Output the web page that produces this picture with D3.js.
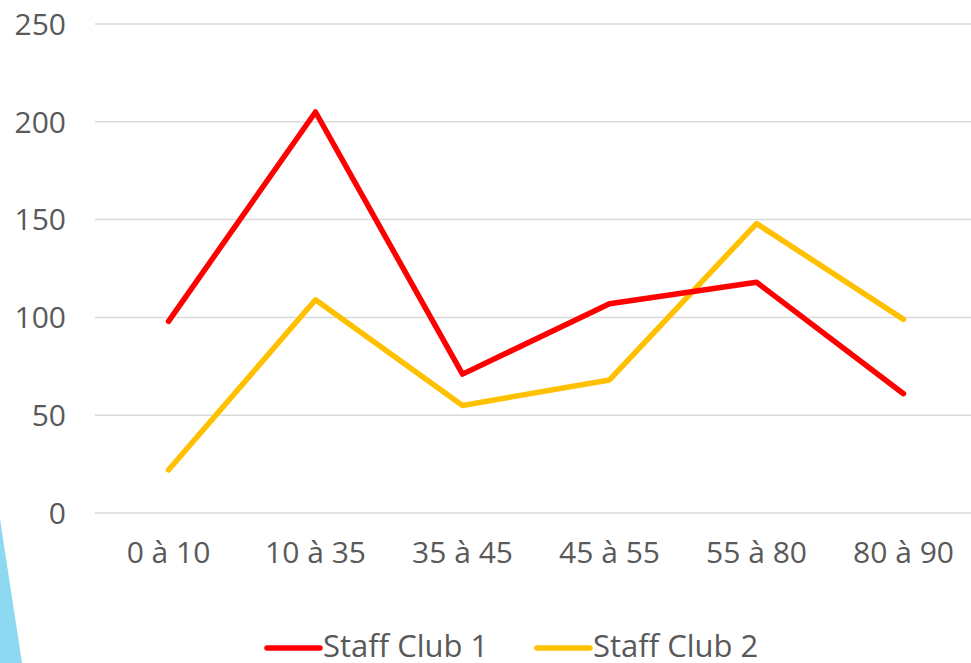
<!DOCTYPE html>
<html lang="fr">
<head>
<meta charset="utf-8">
<title>Staff Clubs</title>
<script src="https://d3js.org/d3.v7.min.js"></script>
<style>
  body { margin: 0; background: #fff; }
  text { font-family: "Open Sans", "DejaVu Sans", sans-serif; fill: #595959; }
</style>
</head>
<body>
<script>
// data
var categories = ["0 à 10", "10 à 35", "35 à 45", "45 à 55", "55 à 80", "80 à 90"];
var club1 = [98, 205, 71, 107, 118, 61];
var club2 = [22, 109, 55, 68, 148, 99];
var seriesNames = ["Staff Club 1", "Staff Club 2"];
var seriesColors = ["#ff0000", "#ffc000"];
var yTicks = [0, 50, 100, 150, 200, 250];

var w = 971, h = 663;
var svg = d3.select("body").append("svg")
    .attr("width", w)
    .attr("height", h);

// light blue decoration at bottom left
svg.append("path")
    .attr("d", "M0,519 L22,663 L0,663 Z")
    .attr("fill", "#8dd9f2");

var x = d3.scaleBand()
    .domain(categories)
    .range([95, 977]);

var y = d3.scaleLinear()
    .domain([0, 250])
    .range([513, 24]);

// gridlines
svg.selectAll("line.grid")
    .data(yTicks)
    .enter().append("line")
    .attr("class", "grid")
    .attr("x1", 95).attr("x2", w)
    .attr("y1", d => y(d)).attr("y2", d => y(d))
    .attr("stroke", "#d9d9d9")
    .attr("stroke-width", 1.5);

// y labels
svg.selectAll("text.ylab")
    .data(yTicks)
    .enter().append("text")
    .attr("class", "ylab")
    .attr("x", 66)
    .attr("y", d => y(d))
    .attr("dy", "0.36em")
    .attr("text-anchor", "end")
    .attr("font-size", 30)
    .text(d => d);

// x labels
svg.selectAll("text.xlab")
    .data(categories)
    .enter().append("text")
    .attr("class", "xlab")
    .attr("x", d => x(d) + x.bandwidth() / 2)
    .attr("y", 563)
    .attr("text-anchor", "middle")
    .attr("font-size", 30)
    .text(d => d);

var line = d3.line()
    .x((d, i) => x(categories[i]) + x.bandwidth() / 2)
    .y(d => y(d));

// yellow first so red sits on top
[club2, club1].forEach(function(s, k) {
  var idx = 1 - k;
  svg.append("path")
      .datum(s)
      .attr("d", line)
      .attr("fill", "none")
      .attr("stroke", seriesColors[idx])
      .attr("stroke-width", 5.5)
      .attr("stroke-linejoin", "round")
      .attr("stroke-linecap", "round");
});

// legend
var legendX = [267, 537];
seriesNames.forEach(function(name, i) {
  var g = svg.append("g").attr("transform", "translate(" + legendX[i] + ",648)");
  g.append("line")
      .attr("x1", 0).attr("x2", 53)
      .attr("stroke", seriesColors[i])
      .attr("stroke-width", 5.5)
      .attr("stroke-linecap", "round");
  g.append("text")
      .attr("x", 56)
      .attr("y", 9)
      .attr("font-size", 31)
      .text(name);
});
</script>
</body>
</html>
